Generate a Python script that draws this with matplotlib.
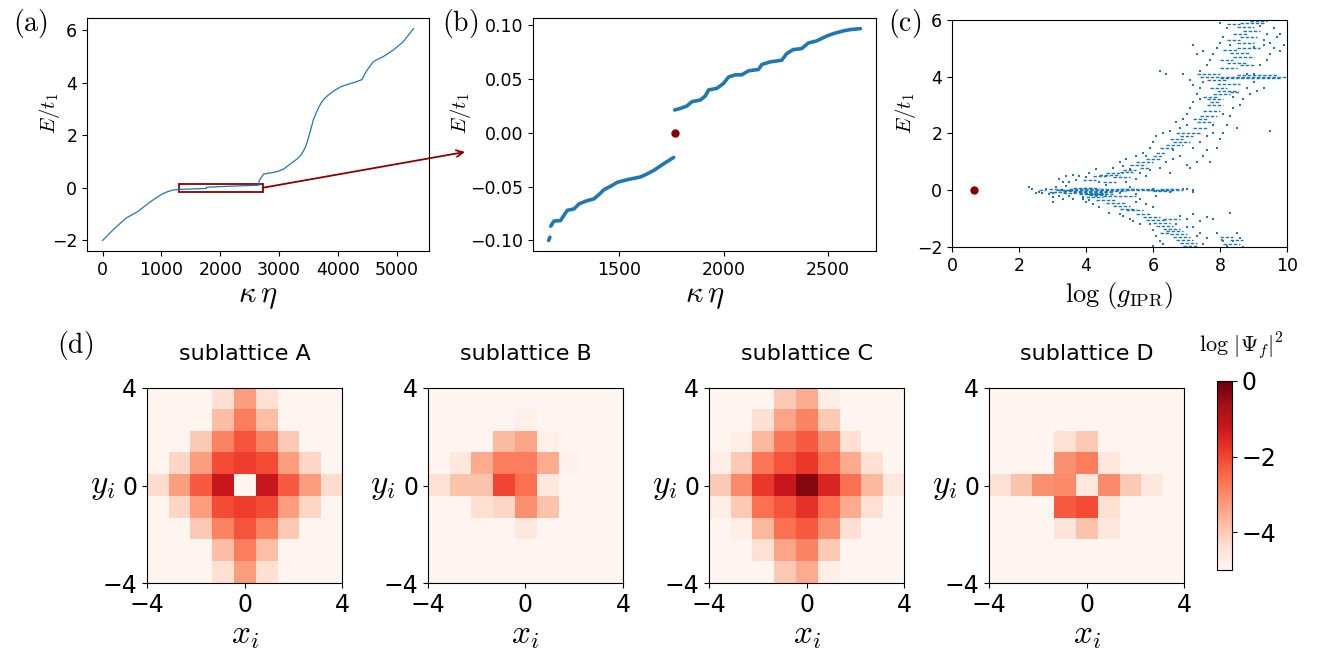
import numpy as np
import matplotlib
matplotlib.use("Agg")
import matplotlib.pyplot as plt
from matplotlib.patches import Rectangle, ConnectionPatch

plt.rcParams['mathtext.fontset'] = 'cm'

# ---- panel (a): spectrum vs state index
a_idx = [0, 200, 400, 600, 800, 1000, 1100, 1206, 1320, 1500, 1762, 1767, 2000, 2300, 2654,
         2660, 2735, 2962, 3075, 3188, 3301, 3360, 3414, 3460, 3499, 3545, 3584, 3630, 3669, 3720,
         3782, 3850, 3924, 4037, 4150, 4300, 4405, 4490, 4603, 4773, 4943, 5113, 5283]
a_E = [-2.0, -1.55, -1.15, -0.9, -0.55, -0.25, -0.15, -0.08, -0.06, -0.045, -0.023, 0.021, 0.046, 0.072, 0.097,
       0.27, 0.52, 0.61, 0.71, 0.90, 1.09, 1.22, 1.40, 1.62, 1.91, 2.28, 2.60, 2.85, 3.04, 3.25,
       3.42, 3.55, 3.67, 3.83, 3.92, 4.02, 4.11, 4.46, 4.80, 4.99, 5.24, 5.56, 6.05]

# ---- panel (b): zoom on the gap
b_lo_idx = [1175, 1190, 1222, 1230, 1254, 1286, 1310, 1349, 1381, 1405, 1429, 1460, 1492, 1540,
            1603, 1627, 1667, 1714, 1762]
b_lo_E = [-0.0867, -0.082, -0.0815, -0.079, -0.072, -0.0707, -0.066, -0.063, -0.0614, -0.0574,
          -0.0528, -0.0497, -0.046, -0.0435, -0.041, -0.0389, -0.0349, -0.0287, -0.0228]
b_edge_idx = [1165, 1171]
b_edge_E = [-0.1, -0.097]
b_hi_idx = [1767, 1794, 1825, 1849, 1889, 1913, 1929, 1968, 2000, 2024, 2056, 2087, 2119, 2167,
            2183, 2222, 2278, 2302, 2333, 2373, 2405, 2444, 2492, 2524, 2571, 2603, 2654]
b_hi_E = [0.0213, 0.0228, 0.025, 0.029, 0.0306, 0.0343, 0.040, 0.0414, 0.046, 0.052, 0.054, 0.054,
          0.0577, 0.059, 0.0636, 0.066, 0.0676, 0.0738, 0.0775, 0.0784, 0.0836, 0.0855, 0.090,
          0.0923, 0.0948, 0.096, 0.097]
zero_idx = 1767
zero_E = 0.0

# ---- panel (c): IPR scatter, short horizontal runs (E, x0, x1) and single dots (x, E)
c_runs = [
    (0.02, 3.1, 3.6), (0.0, 3.2, 5.9), (-0.03, 3.3, 5.2), (0.04, 3.5, 5.5), (-0.07, 3.6, 4.8),
    (-0.1, 3.8, 4.6), (0.07, 3.9, 4.4), (-0.13, 4.0, 4.5), (0.05, 5.0, 6.1), (0.0, 5.8, 6.4),
    (0.03, 6.5, 6.8), (0.0, 2.6, 2.8), (-0.05, 2.9, 3.1),
    (-0.17, 4.1, 4.6), (0.09, 3.6, 4.2), (-0.05, 3.0, 3.4), (0.01, 5.9, 6.9), (-0.02, 6.0, 6.6),
    (0.06, 6.2, 6.6), (-0.09, 3.3, 3.7), (0.03, 2.9, 3.3),
    (0.55, 4.4, 5.0), (0.6, 4.6, 5.1), (0.5, 4.2, 4.7), (0.45, 4.8, 5.3), (0.35, 3.9, 4.3),
    (0.65, 5.0, 5.4), (0.7, 5.1, 5.5), (0.3, 4.5, 4.9),
    (0.9, 5.3, 5.8), (1.0, 5.5, 6.0), (1.1, 5.8, 6.2), (0.8, 5.6, 5.9), (1.2, 6.0, 6.3), (1.3, 6.1, 6.4),
    (1.5, 6.2, 6.6), (1.6, 6.4, 6.9), (1.7, 6.6, 7.1), (1.9, 6.8, 7.2), (2.0, 6.7, 7.4), (1.8, 6.5, 6.9),
    (2.2, 7.2, 7.6), (2.4, 7.3, 7.8), (2.6, 7.4, 7.9), (2.8, 7.5, 8.0), (3.0, 7.6, 8.1), (2.5, 7.2, 7.6),
    (3.2, 7.6, 8.1), (3.4, 7.8, 8.3), (3.5, 7.9, 8.5), (3.6, 7.7, 8.2), (3.75, 7.9, 8.6), (3.9, 7.6, 8.2),
    (3.3, 7.5, 7.9), (3.1, 7.7, 8.0), (3.45, 8.3, 8.6),
    (4.0, 7.4, 10.0), (3.95, 8.0, 9.8), (4.05, 8.5, 9.7), (4.1, 7.3, 8.0),
    (4.3, 8.0, 8.5), (4.5, 8.2, 8.8), (4.6, 8.0, 8.4), (4.7, 8.4, 9.0), (4.85, 8.3, 8.9),
    (5.0, 8.5, 9.2), (4.4, 8.6, 9.0), (4.95, 8.1, 8.5),
    (5.2, 8.5, 9.0), (5.4, 8.6, 9.1), (5.5, 8.4, 8.8), (5.6, 8.7, 9.2), (5.75, 8.5, 9.0),
    (5.9, 8.6, 9.3), (5.95, 8.9, 9.4), (5.3, 8.2, 8.6), (5.85, 8.2, 8.6),
    (-0.25, 4.0, 4.5), (-0.35, 4.3, 4.9), (-0.45, 4.6, 5.2), (-0.55, 4.8, 5.3), (-0.65, 5.0, 5.5),
    (-0.7, 5.2, 5.7), (-0.15, 3.8, 4.8), (-0.2, 4.5, 5.5),
    (-0.85, 5.5, 5.9), (-0.95, 5.7, 6.2), (-1.05, 5.8, 6.4), (-1.15, 6.0, 6.5), (-1.25, 6.1, 6.6),
    (-1.0, 6.3, 6.8),
    (-1.35, 6.3, 6.8), (-1.45, 6.4, 6.9), (-1.55, 6.5, 7.0), (-1.65, 6.6, 7.1), (-1.75, 6.7, 7.2),
    (-1.85, 6.8, 7.3), (-1.95, 6.9, 7.3), (-1.5, 6.2, 6.5),
    (-1.65, 8.0, 8.4), (-1.9, 8.1, 8.6), (-1.75, 8.3, 8.7),
]
c_dots_x = [2.4, 2.6, 2.7, 2.9, 3.0, 3.1, 3.3, 3.5, 3.6, 3.9, 4.1, 4.3, 6.0, 6.3, 6.6, 6.9, 7.2, 7.2, 2.3,
            2.5, 2.8, 3.0, 3.4, 5.0, 5.3, 6.5, 7.0, 5.5,
            3.2, 3.5, 3.7, 3.8, 4.0, 4.1, 3.6, 4.4, 4.6, 5.2, 5.5, 5.6, 5.8, 3.3, 3.4, 4.3, 4.8, 5.1, 5.3,
            5.0, 5.2, 5.5, 5.7, 6.4, 6.6, 6.2, 6.8, 7.0, 5.9, 6.5,
            5.9, 6.0, 6.1, 6.3, 6.5, 7.2, 7.4, 7.6, 7.8, 8.1, 7.0, 6.8, 7.5, 7.3, 7.1, 6.6, 5.8, 7.7, 7.9,
            6.9, 7.0, 7.1, 7.2, 8.2, 8.3, 8.4, 8.1, 8.5, 7.8, 6.7, 8.0, 9.5, 7.6,
            7.3, 7.4, 7.5, 7.2, 8.7, 8.8, 8.9, 9.1, 8.6, 8.4, 7.4, 7.1, 9.3, 9.0,
            6.2, 6.4, 6.9, 7.4, 8.8, 9.0,
            7.6, 7.7, 7.8, 7.9, 7.5, 9.2, 9.4, 9.5, 9.6, 9.3, 9.8, 9.9, 7.3, 7.2,
            8.0, 8.1, 8.2, 8.0, 9.3, 9.4, 9.6, 9.2, 9.5, 9.7, 8.3, 9.0, 9.8,
            3.9, 4.0, 4.2, 4.4, 5.5, 5.8, 6.0, 5.6, 3.2, 3.0, 4.7, 5.0, 6.1,
            5.1, 5.3, 5.4, 6.8, 7.0, 7.2, 6.7, 5.6, 7.4, 7.6, 7.8, 8.3,
            6.0, 6.1, 6.2, 6.0, 6.3, 7.2, 7.4, 7.6, 7.5, 7.3, 5.9, 7.0,
            7.9, 8.1, 8.5, 8.6, 8.2, 8.4, 8.7, 8.05]
c_dots_E = [0.05, -0.05, -0.1, -0.15, -0.1, 0.1, -0.3, -0.2, -0.3, -0.25, -0.35, -0.2, 0.05, 0.02, 0.0, 0.05, 0.0, -0.05, 0.1,
            -0.1, 0.05, -0.25, 0.15, -0.1, 0.1, -0.05, 0.05, -0.15,
            0.4, 0.3, 0.35, 0.5, 0.45, 0.6, 0.55, 0.3, 0.2, 0.3, 0.4, 0.6, 0.5, 0.3, 0.5, 0.75, 0.8, 0.85, 0.75,
            1.0, 1.1, 1.2, 1.3, 1.0, 1.1, 0.8, 1.2, 0.9, 0.7, 0.6,
            1.5, 1.7, 1.9, 2.0, 2.1, 1.5, 1.7, 1.9, 2.0, 2.0, 2.3, 2.2, 1.2, 1.0, 0.8, 1.4, 1.2, 1.0, 1.5,
            2.5, 2.7, 2.9, 3.1, 2.3, 2.6, 2.9, 2.7, 2.2, 2.3, 2.4, 1.8, 2.1, 1.4,
            3.4, 3.6, 3.8, 3.7, 3.2, 3.6, 3.4, 3.5, 3.0, 3.3, 3.2, 3.9, 3.6, 3.8,
            4.2, 4.1, 4.1, 4.2, 4.1, 4.1,
            4.4, 4.6, 4.8, 5.0, 4.9, 4.4, 4.6, 4.8, 5.0, 5.1, 4.9, 5.1, 4.8, 5.1,
            5.2, 5.4, 5.7, 5.9, 5.3, 5.5, 5.7, 5.8, 5.2, 5.4, 5.1, 5.05, 5.5,
            -0.3, -0.4, -0.5, -0.6, -0.4, -0.5, -0.6, -0.3, -0.2, -0.4, -0.8, -0.85, -0.2,
            -0.9, -1.0, -1.1, -0.9, -1.0, -0.85, -1.2, -1.2, -1.1, -0.95, -1.0, -0.8,
            -1.4, -1.6, -1.8, -1.95, -1.9, -1.3, -1.5, -1.7, -1.9, -1.6, -1.2, -1.3,
            -1.5, -1.8, -1.5, -1.7, -1.95, -1.8, -2.0, -1.75]
local_g = 0.65
local_E = 0.0

# ---- panel (d): log|Psi_f|^2 on the four sublattices, rows from y=4 (top) to y=-4
B0 = -5.0
sub_A = [
    [B0, B0, B0, -4.4, -3.3, -4.4, B0, B0, B0],
    [B0, B0, B0, -3.8, -2.8, -3.8, B0, B0, B0],
    [B0, B0, -4.0, -2.9, -2.2, -2.9, -4.0, B0, B0],
    [B0, -4.2, -3.3, -2.1, -1.9, -2.1, -3.3, -4.2, B0],
    [-4.3, -3.3, -2.3, -1.2, -5.0, -1.2, -2.3, -3.3, -4.3],
    [B0, -4.2, -3.3, -2.1, -1.9, -2.1, -3.3, -4.2, B0],
    [B0, B0, -4.0, -2.9, -2.2, -2.9, -4.0, B0, B0],
    [B0, B0, B0, -3.8, -2.8, -3.8, B0, B0, B0],
    [B0, B0, B0, -4.4, -3.3, -4.4, B0, B0, B0],
]
sub_B = [
    [B0, B0, B0, B0, B0, B0, B0, B0, B0],
    [B0, B0, B0, B0, -4.85, B0, B0, B0, B0],
    [B0, B0, B0, -3.75, -3.4, -4.85, B0, B0, B0],
    [B0, -4.6, -3.5, -2.8, -2.8, -3.5, -4.9, B0, B0],
    [-4.4, -3.9, -3.9, -2.0, -2.6, -4.6, B0, B0, B0],
    [B0, B0, -4.4, -4.2, -3.1, -3.9, B0, B0, B0],
    [B0, B0, B0, B0, -4.6, B0, B0, B0, B0],
    [B0, B0, B0, B0, B0, B0, B0, B0, B0],
    [B0, B0, B0, B0, B0, B0, B0, B0, B0],
]
sub_C = [
    [B0, B0, B0, -4.0, -3.5, -4.8, B0, B0, B0],
    [B0, B0, -4.4, -3.4, -2.9, -4.0, B0, B0, B0],
    [B0, -4.8, -3.7, -2.7, -2.3, -3.1, -4.4, B0, B0],
    [-4.8, -4.0, -2.7, -2.2, -1.8, -2.6, -3.5, -4.4, B0],
    [-4.0, -3.0, -1.8, -1.2, -0.3, -1.5, -2.6, -3.7, -4.6],
    [-4.8, -4.0, -2.6, -2.2, -1.7, -2.6, -3.5, -4.4, B0],
    [B0, -4.8, -3.7, -2.6, -2.3, -3.1, -4.4, B0, B0],
    [B0, B0, -4.4, -3.4, -2.9, -4.0, B0, B0, B0],
    [B0, B0, B0, -4.0, -3.5, -4.8, B0, B0, B0],
]
sub_D = [
    [B0, B0, B0, B0, B0, B0, B0, B0, B0],
    [B0, B0, B0, B0, B0, B0, B0, B0, B0],
    [B0, B0, B0, -4.4, -4.0, B0, B0, B0, B0],
    [B0, B0, B0, -3.1, -2.8, -4.6, B0, B0, B0],
    [-4.4, -3.9, -3.1, -3.0, -4.6, -3.0, -4.0, -4.6, B0],
    [B0, B0, B0, -2.3, -2.1, -4.4, B0, B0, B0],
    [B0, B0, B0, -4.5, -3.9, -4.6, B0, B0, B0],
    [B0, B0, B0, B0, B0, B0, B0, B0, B0],
    [B0, B0, B0, B0, B0, B0, B0, B0, B0],
]
sub_names = ['sublattice A', 'sublattice B', 'sublattice C', 'sublattice D']

blue = '#1f77b4'
red = '#8b0000'

fig = plt.figure(figsize=(13.27, 6.62), dpi=100)

# (a)
axA = fig.add_axes([0.0656, 0.6208, 0.2577, 0.352])
axA.plot(a_idx, a_E, color=blue, lw=0.9)
axA.set_xticks([0, 1000, 2000, 3000, 4000, 5000])
axA.set_yticks([-2, 0, 2, 4, 6])
axA.tick_params(labelsize=12.5)
axA.set_xlabel(r'$\kappa\,\eta$', fontsize=22, labelpad=2)
axA.set_ylabel(r'$E/t_1$', fontsize=15)
axA.yaxis.set_label_coords(-0.073, 0.59)
axA.add_patch(Rectangle((1290, -0.17), 1428, 0.31, fill=False, edgecolor=red, lw=1.3))
fig.text(0.023, 0.965, r'$\mathrm{(a)}$', fontsize=20, va='center', ha='center')

# (b)
axB = fig.add_axes([0.4017, 0.6208, 0.2585, 0.352])
axB.plot(b_lo_idx, b_lo_E, color=blue, lw=2.6, solid_capstyle='round')
axB.plot(b_edge_idx, b_edge_E, color=blue, lw=2.6, solid_capstyle='round')
axB.plot(b_hi_idx, b_hi_E, color=blue, lw=2.6, solid_capstyle='round')
axB.plot([zero_idx], [zero_E], 'o', color=red, ms=5)
axB.set_xticks([1500, 2000, 2500])
axB.set_yticks([-0.10, -0.05, 0.0, 0.05, 0.10])
axB.tick_params(labelsize=12.5)
axB.set_xlabel(r'$\kappa\,\eta$', fontsize=22, labelpad=2)
axB.set_ylabel(r'$E/t_1$', fontsize=15)
axB.yaxis.set_label_coords(-0.175, 0.59)
fig.text(0.347, 0.965, r'$\mathrm{(b)}$', fontsize=20, va='center', ha='center')

con = ConnectionPatch(xyA=(2718, 0.0), coordsA='data', axesA=axA,
                      xyB=(0.3504, 0.7704), coordsB='figure fraction',
                      arrowstyle='->', color=red, lw=1.3, mutation_scale=12)
fig.add_artist(con)

# (c)
axC = fig.add_axes([0.7174, 0.6269, 0.2525, 0.343])
for e, x0, x1 in c_runs:
    axC.hlines(e, x0, x1, color=blue, lw=1.0, linestyles=[(0, (2.5, 1.2))])
axC.scatter(c_dots_x, c_dots_E, s=2, marker='s', color=blue, linewidths=0)
axC.plot([local_g], [local_E], 'o', color=red, ms=5)
axC.set_xlim(0, 10)
axC.set_ylim(-2, 6)
axC.set_xticks([0, 2, 4, 6, 8, 10])
axC.set_yticks([-2, 0, 2, 4, 6])
axC.tick_params(labelsize=12.5)
axC.set_xlabel(r'$\log\,(g_{\rm IPR})$', fontsize=19, labelpad=4)
axC.set_ylabel(r'$E/t_1$', fontsize=15)
axC.yaxis.set_label_coords(-0.101, 0.59)
fig.text(0.682, 0.965, r'$\mathrm{(c)}$', fontsize=20, va='center', ha='center')

# (d)
lefts = [0.1108, 0.3225, 0.5343, 0.7453]
for left, data, name in zip(lefts, [sub_A, sub_B, sub_C, sub_D], sub_names):
    ax = fig.add_axes([left, 0.1193, 0.147, 0.2946])
    im = ax.imshow(np.array(data), cmap='Reds', vmin=-5, vmax=0,
                   extent=[-4, 4, -4, 4], interpolation='nearest')
    ax.set_xticks([-4, 0, 4])
    ax.set_yticks([-4, 0, 4])
    ax.tick_params(labelsize=17)
    ax.set_title(name, fontsize=16, pad=20)
    ax.set_xlabel(r'$x_i$', fontsize=24, labelpad=1)
    ax.set_ylabel(r'$y_i$', fontsize=24, rotation=0, ha='right', va='center')
    ax.yaxis.set_label_coords(-0.165, 0.5)
fig.text(0.057, 0.478, r'$\mathrm{(d)}$', fontsize=20, va='center', ha='center')

cax = fig.add_axes([0.9171, 0.139, 0.0113, 0.2855])
cb = fig.colorbar(im, cax=cax, ticks=[0, -2, -4])
cb.ax.tick_params(labelsize=17)
fig.text(0.935, 0.478, r'$\log\,|\Psi_f|^2$', fontsize=16, va='center', ha='center')

fig.savefig('out.png', dpi=100)
